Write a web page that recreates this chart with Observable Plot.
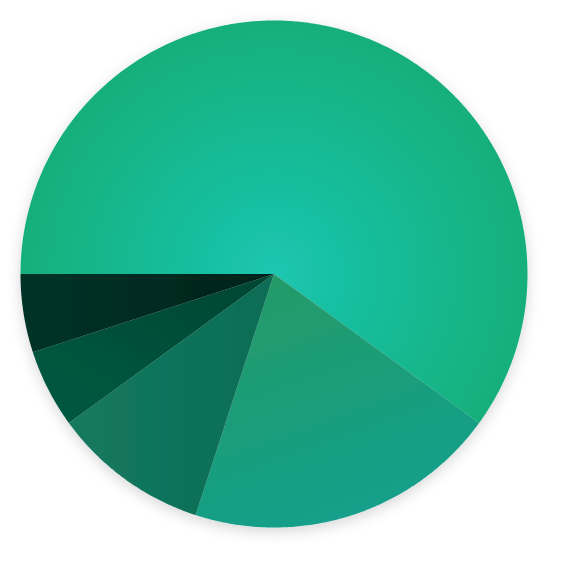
<!DOCTYPE html>
<html>
<head>
<meta charset="utf-8">
<script src="https://cdn.jsdelivr.net/npm/d3@7"></script>
<script src="https://cdn.jsdelivr.net/npm/@observablehq/plot@0.6"></script>
<style>
  html, body { margin: 0; padding: 0; background: #ffffff; }
  #chart svg { display: block; background: #ffffff; }
</style>
</head>
<body>
<div id="chart"></div>
<script>
// ---- data ----
const categories = ["A", "B", "C", "D", "E"];
const values = [60, 20, 10, 5, 5];
// per-slice gradient stops [start, end]
const gradientStops = [
  ["#1bc6b1", "#13af7a"],
  ["#259a68", "#10a08e"],
  ["#15795f", "#0a6c56"],
  ["#055a42", "#004532"],
  ["#013328", "#00231a"]
];

const W = 567, H = 566;
const CX = 273.5, CY = 273.5, R = 253.5;

// pie layout: start at 9 o'clock, clockwise
const pie = d3.pie().sort(null).startAngle(-Math.PI / 2).endAngle(3 * Math.PI / 2);
const arcs = pie(values);

// build polygon vertices for each wedge in data (unit radius) space
const rows = [];
arcs.forEach((a, i) => {
  const id = categories[i];
  rows.push({id, i, x: 0, y: 0});
  const n = Math.max(2, Math.ceil((a.endAngle - a.startAngle) / (Math.PI / 360)));
  for (let k = 0; k <= n; k++) {
    const t = a.startAngle + (a.endAngle - a.startAngle) * k / n;
    rows.push({id, i, x: Math.sin(t), y: Math.cos(t)});
  }
});

const plot = Plot.plot({
  width: W,
  height: H,
  margin: 0,
  x: {domain: [-CX / R, (W - CX) / R], axis: null},
  y: {domain: [-(H - CY) / R, CY / R], axis: null},
  color: {type: "identity"},
  marks: [
    Plot.line(rows, {
      x: "x",
      y: "y",
      z: "id",
      fill: d => `url(#grad-${d.i})`,
      stroke: "none",
      curve: "linear-closed"
    })
  ]
});

// gradients and shadow
const ns = "http://www.w3.org/2000/svg";
const svg = d3.select(plot.tagName.toLowerCase() === "svg" ? plot : plot.querySelector("svg"));
const defs = svg.insert("defs", ":first-child");
const cx = plot.scale("x").apply(0), cy = plot.scale("y").apply(0);
const rr = plot.scale("x").apply(1) - cx;

const g0 = defs.append("radialGradient").attr("id", "grad-0")
  .attr("gradientUnits", "userSpaceOnUse").attr("cx", cx).attr("cy", cy).attr("r", rr);
g0.append("stop").attr("offset", 0).attr("stop-color", gradientStops[0][0]);
g0.append("stop").attr("offset", 1).attr("stop-color", gradientStops[0][1]);

const dirs = [null, [0.3, 0, 0.7, 1], [0, 0.5, 1, 0.5], [0, 1, 1, 0], [0, 0.5, 1, 0.5]];
for (let i = 1; i < gradientStops.length; i++) {
  const [x1, y1, x2, y2] = dirs[i];
  const g = defs.append("linearGradient").attr("id", `grad-${i}`)
    .attr("x1", x1).attr("y1", y1).attr("x2", x2).attr("y2", y2);
  g.append("stop").attr("offset", 0).attr("stop-color", gradientStops[i][0]);
  g.append("stop").attr("offset", 1).attr("stop-color", gradientStops[i][1]);
}

const f = defs.append("filter").attr("id", "pie-shadow")
  .attr("x", "-20%").attr("y", "-20%").attr("width", "140%").attr("height", "140%");
f.append("feDropShadow").attr("dx", 0).attr("dy", 4).attr("stdDeviation", 7)
  .attr("flood-color", "#000").attr("flood-opacity", 0.16);

svg.selectAll("g[aria-label='line']").attr("filter", "url(#pie-shadow)");

document.getElementById("chart").appendChild(plot);
</script>
</body>
</html>
